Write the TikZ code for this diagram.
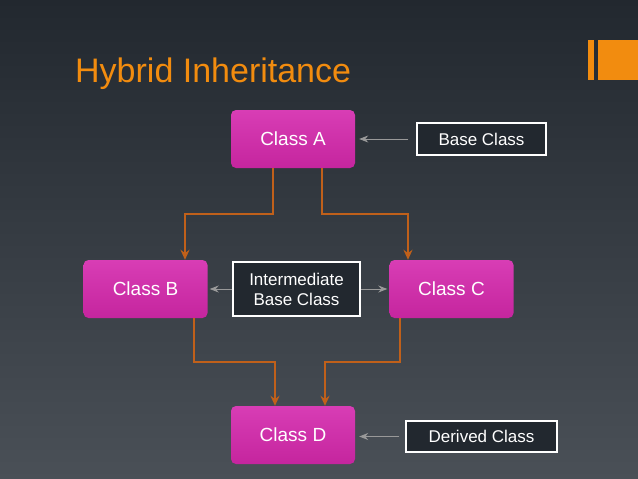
\documentclass[tikz,border=0pt]{standalone}
\usepackage{fontspec}
\setmainfont{Liberation Sans}
\usetikzlibrary{arrows.meta}
\definecolor{bgtop}{HTML}{22282F}
\definecolor{bgbot}{HTML}{4A5057}
\definecolor{org}{HTML}{F28C0F}
\definecolor{arr}{HTML}{C0601A}
\definecolor{mag}{HTML}{C5259E}
\definecolor{magl}{HTML}{D83DB5}
\tikzset{cls/.style={rounded corners=5pt,top color=magl,bottom color=mag,draw=none,text=white,font=\fontsize{19}{22}\selectfont,minimum width=124pt,minimum height=58pt},
lbl/.style={draw=white,line width=1.5pt,fill=bgtop,text=white,font=\fontsize{17}{20}\selectfont,align=center,inner sep=2pt},
oa/.style={draw=arr,line width=1.5pt,-{Stealth[length=10pt,width=9pt]}},
ga/.style={draw=gray!80,line width=1pt,-{Stealth[length=9pt,width=7pt]}}}
\begin{document}
\begin{tikzpicture}[x=1pt,y=-1pt]
\shade[top color=bgtop,bottom color=bgbot] (0,0) rectangle (638,479);
\useasboundingbox (0,0) rectangle (638,479);
\fill[org] (588,40) rectangle (594,80);
\fill[org] (598,40) rectangle (638,80);
\node[anchor=base west,text=org,font=\fontsize{34}{38}\selectfont,inner sep=0] (title) at (75,82) {Hybrid Inheritance};
\node[cls] (A) at (293,139) {Class A};
\node[cls] (B) at (145.5,289) {Class B};
\node[cls] (C) at (451.5,289) {Class C};
\node[cls] (D) at (293,435) {Class D};
\node[lbl,minimum width=129pt,minimum height=32pt] (bc) at (481.5,139) {Base Class};
\node[lbl,minimum width=127pt,minimum height=54pt] (ib) at (296.5,289) {Intermediate\\Base Class};
\node[lbl,minimum width=151pt,minimum height=31pt] (dc) at (481.5,436.5) {Derived Class};
\draw[oa] (A.south -| 273,0) |- (185,214) -- (B.north -| 185,0);
\draw[oa] (A.south -| 322,0) |- (408,214) -- (C.north -| 408,0);
\draw[oa] (B.south -| 194,0) |- (275,362) -- (D.north -| 275,0);
\draw[oa] (C.south -| 400,0) |- (325,362) -- (D.north -| 325,0);
\draw[ga] ([xshift=-8pt]bc.west) -- ([xshift=4pt]A.east |- bc.west);
\draw[ga] ([xshift=-6pt]dc.west) -- ([xshift=4pt]D.east |- dc.west);
\draw[ga] (ib.west) -- ([xshift=2pt]B.east);
\draw[ga] (ib.east) -- ([xshift=-2pt]C.west);
\end{tikzpicture}
\end{document}
